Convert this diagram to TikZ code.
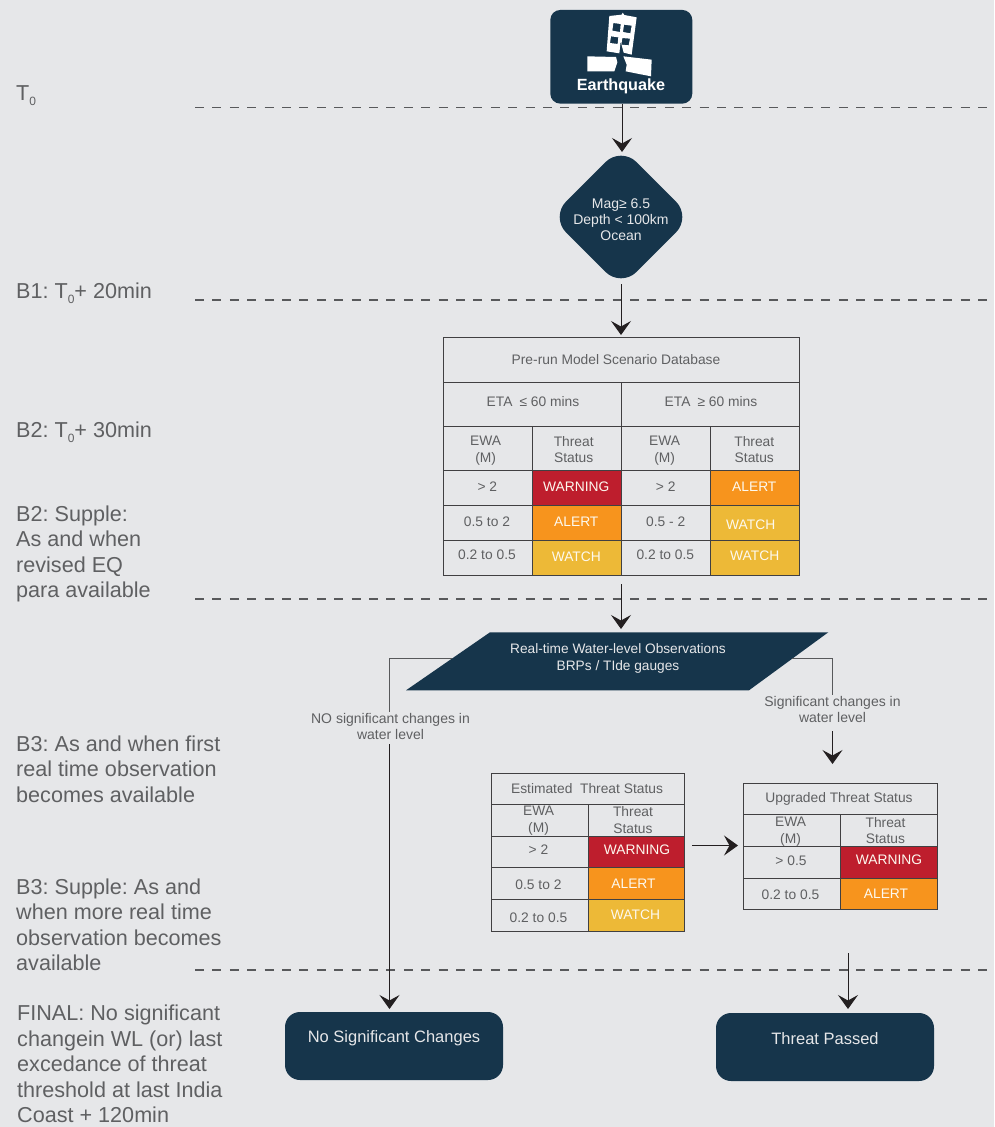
\documentclass[tikz,border=0pt]{standalone}
\usepackage{fontspec}
\setmainfont{Liberation Sans}
\usetikzlibrary{arrows.meta,shapes.geometric}
\definecolor{bgc}{HTML}{E6E7E9}
\definecolor{navy}{HTML}{16354B}
\definecolor{ink}{HTML}{58595B}
\definecolor{soft}{HTML}{5F6062}
\definecolor{rule}{HTML}{414042}
\definecolor{arrowc}{HTML}{231F20}
\definecolor{redc}{HTML}{BE1E2D}
\definecolor{orangec}{HTML}{F7941D}
\definecolor{yellowc}{HTML}{EDB937}
\tikzset{
  x=1pt,y=-1pt,
  sidelabel/.style={anchor=north west,inner sep=0pt,align=left,text=soft,font=\fontsize{21.6}{25.5}\selectfont},
  phase/.style={draw=ink,line width=1.3pt,dash pattern=on 9pt off 8.4pt},
  flow/.style={draw=arrowc,line width=1pt,-{Stealth[length=14pt,width=20pt,inset=5.5pt]}},
  plainflow/.style={draw=ink,line width=1pt},
  cellc/.style={draw=rule,line width=1pt},
  celltext/.style={inner sep=0pt,align=center,text=soft,font=\fontsize{13.8}{16.8}\selectfont},
  hottext/.style={inner sep=0pt,align=center,text=white!92!yellowc,font=\fontsize{13.8}{16.8}\selectfont},
  navytext/.style={inner sep=0pt,align=center,text=bgc,font=\fontsize{13.7}{17}\selectfont},
  endbox/.style={fill=navy,rounded corners=15pt,inner sep=0pt},
  endtext/.style={inner sep=0pt,text=bgc,font=\fontsize{16.5}{19}\selectfont},
  flowlabel/.style={inner sep=0pt,align=center,text=soft,font=\fontsize{14}{16}\selectfont},
}
\newcommand{\cellrect}[5][bgc]{\path[cellc,fill=#1] (#2,#3) rectangle (#4,#5);}
\newcommand{\Tz}{T\raisebox{-5pt}{\fontsize{12}{12}\selectfont 0}}
\frenchspacing
\begin{document}
\begin{tikzpicture}
\frenchspacing
\useasboundingbox (0,0) rectangle (994,1127);
\fill[bgc] (0,0) rectangle (994,1127);

% phase lines
\coordinate (p1a) at (195,107.5); \coordinate (p1b) at (994,107.5);
\coordinate (p2a) at (195,300);   \coordinate (p2b) at (994,300);
\coordinate (p3a) at (195,599);   \coordinate (p3b) at (994,599);
\coordinate (p4a) at (195,970);   \coordinate (p4b) at (994,970);
\draw[phase] (p1a) -- (p1b);
\draw[phase] (p2a) -- (p2b);
\draw[phase] (p3a) -- (p3b);
\draw[phase] (p4a) -- (p4b);

% side labels
\node[sidelabel] (l0) at (16,85.5) {\Tz};
\node[sidelabel] (l1) at (16,282.5) {B1: \Tz+ 20min};
\node[sidelabel] (l2) at (16,422) {B2: \Tz+ 30min};
\node[sidelabel] (l3) at (16,505.5) {B2: Supple:\\As and when\\revised EQ\\para available};
\node[sidelabel] (l4) at (16,735.5) {B3: As and when first\\real time observation\\becomes available};
\node[sidelabel] (l5) at (16,878.5) {B3: Supple: As and\\when more real time\\observation becomes\\available};
\node[sidelabel] (l6) at (17,1005) {FINAL: No significant\\changein WL (or) last\\excedance of threat\\threshold at last India\\Coast + 120min};

% earthquake
\node[fill=navy,rounded corners=10pt,minimum width=142pt,minimum height=93.7pt,inner sep=0pt] (eq) at (621.3,56.8) {};
\begin{scope}[shift={(580,8)},x=0.3333pt,y=-0.3333pt]
  \fill[white,even odd rule] (88,24)--(125,20)--(128,14)--(133,21)--(170,28)--(155,140)--(131,134)--(122,100)--(118,136)--(80,130)--cycle
    (100,45)--(122,48)--(120,72)--(97,68)--cycle
    (132,50)--(155,53)--(151,76)--(129,72)--cycle
    (93,85)--(115,88)--(113,108)--(90,105)--cycle
    (127,90)--(150,92)--(146,112)--(124,110)--cycle;
  \fill[white] (22,145)--(108,147)--(112,163)--(103,190)--(22,190)--cycle;
  \fill[white] (130,145)--(215,155)--(213,205)--(137,190)--(140,170)--cycle;
\end{scope}
\node[inner sep=0pt,text=white,font=\bfseries\fontsize{16.2}{18}\selectfont] (eqt) at (621,86.5) {Earthquake};
\coordinate (eqb) at (622,104);
\coordinate (magt0) at (622,152);

% diamond
\node[diamond,fill=navy,rounded corners=22pt,minimum width=141pt,minimum height=141pt,inner sep=0pt,aspect=1] (mag) at (621,217) {};
\node[navytext,font=\fontsize{14}{16.2}\selectfont] (magt) at (621,219.5) {Mag≥ 6.5\\Depth < 100km\\Ocean};
\coordinate (magb) at (621,284);
\coordinate (dbt) at (621,335);

% database table
\cellrect{443.5}{337.7}{799}{382.3}
\cellrect{443.5}{382.3}{621.3}{426.7}
\cellrect{621.3}{382.3}{799}{426.7}
\cellrect{443.5}{426.7}{532.3}{470.7}
\cellrect{532.3}{426.7}{621.3}{470.7}
\cellrect{621.3}{426.7}{710}{470.7}
\cellrect{710}{426.7}{799}{470.7}
\cellrect{443.5}{470.7}{532.3}{505.7}
\cellrect[redc]{532.3}{470.7}{621.3}{505.7}
\cellrect{621.3}{470.7}{710}{505.7}
\cellrect[orangec]{710}{470.7}{799}{505.7}
\cellrect{443.5}{505.7}{532.3}{540.7}
\cellrect[orangec]{532.3}{505.7}{621.3}{540.7}
\cellrect{621.3}{505.7}{710}{540.7}
\cellrect[yellowc]{710}{505.7}{799}{540.7}
\cellrect{443.5}{540.7}{532.3}{575.7}
\cellrect[yellowc]{532.3}{540.7}{621.3}{575.7}
\cellrect{621.3}{540.7}{710}{575.7}
\cellrect[yellowc]{710}{540.7}{799}{575.7}

\node[celltext] (d0) at (616,359.5) {Pre-run Model Scenario Database};
\node[celltext] (d1) at (533,401.5) {ETA\hspace{7pt}≤ 60 mins};
\node[celltext] (d2) at (711,401.5) {ETA\hspace{7pt}≥ 60 mins};
\node[celltext] (d3) at (485.7,450.5) {EWA\\(M)};
\node[celltext] (d4) at (573.7,449.5) {Threat\\Status};
\node[celltext] (d5) at (664.7,450.5) {EWA\\(M)};
\node[celltext] (d6) at (754.3,449.5) {Threat\\Status};
\node[celltext] (d7) at (487.3,486.5) {> 2};
\node[hottext] (d8) at (576.3,486.5) {WARNING};
\node[celltext] (d9) at (665.7,486.5) {> 2};
\node[hottext] (d10) at (754.3,486.5) {ALERT};
\node[celltext] (d11) at (487,521.5) {0.5 to 2};
\node[hottext] (d12) at (576.3,522) {ALERT};
\node[celltext] (d13) at (665.7,521.5) {0.5 - 2};
\node[hottext] (d14) at (750.7,524.5) {WATCH};
\node[celltext] (d15) at (487,554.5) {0.2 to 0.5};
\node[hottext] (d16) at (576.3,557) {WATCH};
\node[celltext] (d17) at (665.3,554.5) {0.2 to 0.5};
\node[hottext] (d18) at (754.7,556) {WATCH};
\coordinate (dbb) at (621,584);

% observation parallelogram
\fill[navy] (490,632.3) -- (828.3,632.3) -- (749,690.3) -- (406,690.3) -- cycle;
\node[navytext] (obst) at (618,658.5) {Real-time Water-level Observations\\BRPs / TIde gauges};
\coordinate (obst0) at (621,629);
\coordinate (obsl) at (452,658.5);
\coordinate (obsr) at (792,658.5);

% flow labels
\node[flowlabel] (nosig) at (390.5,726.5) {NO significant changes in\\water level};
\node[flowlabel] (sig) at (832.5,709.5) {Significant changes in\\water level};
\coordinate (nosigs) at (389.5,712);
\coordinate (nosige) at (389.5,744);
\coordinate (sigs) at (832.5,695);
\coordinate (sige) at (832.5,731);
\coordinate (upt) at (832.5,764);

% estimated table
\cellrect{491}{773}{684.7}{804.3}
\cellrect{491}{804.3}{588}{836}
\cellrect{588}{804.3}{684.7}{836}
\cellrect{491}{836}{588}{867.7}
\cellrect[redc]{588}{836}{684.7}{867.7}
\cellrect{491}{867.7}{588}{899.3}
\cellrect[orangec]{588}{867.7}{684.7}{899.3}
\cellrect{491}{899.3}{588}{931.3}
\cellrect[yellowc]{588}{899.3}{684.7}{931.3}
\node[celltext] (e0) at (587,788.5) {Estimated \ Threat Status};
\node[celltext] (e1) at (538.5,821) {EWA\\(M)};
\node[celltext] (e2) at (633,820) {Threat\\Status};
\node[celltext] (e3) at (538.5,849.5) {> 2};
\node[hottext] (e4) at (637,850) {WARNING};
\node[celltext] (e5) at (538.5,885) {0.5 to 2};
\node[hottext] (e6) at (633.5,884) {ALERT};
\node[celltext] (e7) at (538.5,918) {0.2 to 0.5};
\node[hottext] (e8) at (635.5,915) {WATCH};
\coordinate (ea) at (692,845.5);
\coordinate (eb) at (738,845.5);

% upgraded table
\cellrect{743.3}{783}{937}{814.7}
\cellrect{743.3}{814.7}{840.3}{846.3}
\cellrect{840.3}{814.7}{937}{846.3}
\cellrect{743.3}{846.3}{840.3}{878}
\cellrect[redc]{840.3}{846.3}{937}{878}
\cellrect{743.3}{878}{840.3}{909.3}
\cellrect[orangec]{840.3}{878}{937}{909.3}
\node[celltext] (u0) at (839,798.5) {Upgraded Threat Status};
\node[celltext] (u1) at (790.5,831.5) {EWA\\(M)};
\node[celltext] (u2) at (885.5,830.5) {Threat\\Status};
\node[celltext] (u3) at (791,860.5) {> 0.5};
\node[hottext] (u4) at (889,860) {WARNING};
\node[celltext] (u5) at (790.5,895) {0.2 to 0.5};
\node[hottext] (u6) at (886,894) {ALERT};
\coordinate (ua) at (848,953);

% end boxes
\node[endbox,minimum width=218pt,minimum height=68pt] (nsc) at (394,1046) {};
\node[endtext] (nsct) at (394,1038) {No Significant Changes};
\node[endbox,minimum width=218pt,minimum height=68pt] (tp) at (825,1047) {};
\node[endtext] (tpt) at (825,1039) {Threat Passed};
\coordinate (nsct0) at (389.5,1009);
\coordinate (tpt0) at (848,1009);

% connectors
\draw[flow] (eqb) -- (magt0);
\draw[flow] (magb) -- (dbt);
\draw[flow] (dbb) -- (obst0);
\draw[plainflow] (obsl) -| (nosigs);
\draw[flow] (nosige) -- (nsct0);
\draw[plainflow] (obsr) -| (sigs);
\draw[flow] (sige) -- (upt);
\draw[flow] (ea) -- (eb);
\draw[flow] (ua) -- (tpt0);
\end{tikzpicture}
\end{document}
